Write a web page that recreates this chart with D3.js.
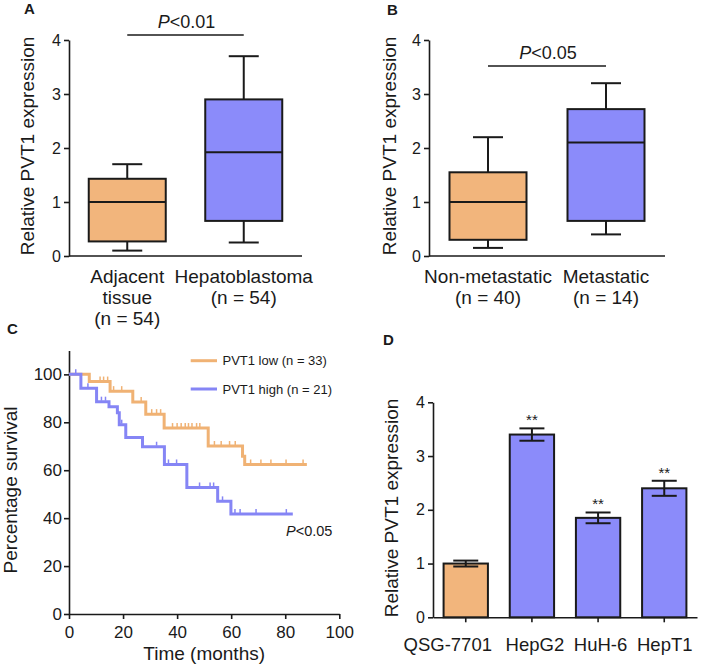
<!DOCTYPE html>
<html><head><meta charset="utf-8">
<script src="https://cdn.jsdelivr.net/npm/d3@7"></script>
<style>
body{margin:0;background:#fff}
svg{display:block;background:#fff}
text{font-family:"Liberation Sans",Arial,Helvetica,sans-serif;fill:#1a1a1a}
</style>
</head><body>
<svg id="c" width="704" height="668"></svg>
<script>
// ---------- DATA ----------
// Panel A (box plots)
const catsA = [["Adjacent","tissue","(n = 54)"],["Hepatoblastoma","(n = 54)"]];
const minA = [0.10, 0.25];
const q1A  = [0.27, 0.65];
const medA = [1.00, 1.92];
const q3A  = [1.43, 2.90];
const maxA = [1.70, 3.70];
const pA = "<0.01";
// Panel B (box plots)
const catsB = [["Non-metastatic","(n = 40)"],["Metastatic","(n = 14)"]];
const minB = [0.15, 0.40];
const q1B  = [0.30, 0.65];
const medB = [1.00, 2.10];
const q3B  = [1.55, 2.72];
const maxB = [2.20, 3.20];
const pB = "<0.05";
const yTicksAB = [0, 1, 2, 3, 4];
// Panel C (Kaplan-Meier)
const lowTimes = [0, 7.5, 15.2, 23.6, 28.4, 35.2, 51.5, 64.2, 65.0];
const lowSurv  = [100, 97.0, 93.0, 88.5, 83.4, 77.6, 70.1, 65.8, 62.4];
const lowEnd = 88;
const lowCensor = [11.5, 12.8, 14.3, 16.5, 19.5, 26.7, 30.6, 32.4, 33.9, 38.3, 40.0, 41.5, 43.0, 44.2, 45.5, 47.2, 48.4, 53.8, 56.3, 59.4, 61.5, 67.2, 71.0, 74.7, 80.3, 86.6];
const highTimes = [0, 4.4, 10.2, 14.8, 17.9, 18.6, 21.0, 27.2, 35.3, 43.6, 55.0, 59.9];
const highSurv  = [100, 94.2, 88.6, 86.5, 84.0, 79.0, 73.7, 69.8, 62.4, 52.8, 47.0, 41.7];
const highEnd = 82.8;
const highCensor = [2.5, 7.0, 12.0, 13.5, 19.5, 32.4, 36.8, 39.8, 48.3, 52.2, 53.5, 56.8, 61.4, 63.3, 69.2, 80.4];
const legendC = ["PVT1 low (n = 33)", "PVT1 high (n = 21)"];
const xTicksC = [0, 20, 40, 60, 80, 100];
const yTicksC = [0, 20, 40, 60, 80, 100];
const pC = "<0.05";
// Panel D (bars)
const catsD = ["QSG-7701", "HepG2", "HuH-6", "HepT1"];
const valsD = [1.00, 3.40, 1.85, 2.40];
const errD  = [0.055, 0.115, 0.10, 0.14];
const sigD  = ["", "**", "**", "**"];

// ---------- STYLE ----------
const ORANGE = "#F2B57C", BLUE = "#8B8BFA";
const LORANGE = "#F0B274", LBLUE = "#8585F5";
const INK = "#1a1a1a";
const svg = d3.select("#c");
const fmt = d3.format("d");

function styleAxis(g, fs){
  g.selectAll("path,line").attr("stroke", INK).attr("stroke-width", 1.6);
  g.selectAll("text").attr("font-size", fs).attr("fill", INK).attr("font-family", '"Liberation Sans",Arial,sans-serif');
}

function panelLabel(t, x, y){
  svg.append("text").attr("x", x).attr("y", y).attr("font-size", 15).attr("font-weight", "bold").text(t);
}

// ---------- BOX PANELS ----------
function boxPanel(o){
  const y = d3.scaleLinear().domain([0,4]).range([256, 40]);
  const x = d3.scalePoint().domain(d3.range(o.cats.length)).range([o.x0, o.x1]).padding(0.5);
  const g = svg.append("g");
  const ya = g.append("g").attr("transform", `translate(${o.x0},0)`)
    .call(d3.axisLeft(y).tickValues(yTicksAB).tickFormat(fmt).tickSize(5).tickSizeOuter(0).tickPadding(3));
  styleAxis(ya, 16);
  g.append("line").attr("x1", o.x0).attr("x2", o.x1).attr("y1", y(0)).attr("y2", y(0))
    .attr("stroke", INK).attr("stroke-width", 1.6);
  const bw = 77, cw = 30;
  o.cats.forEach((c, i) => {
    const cx = x(i), col = i === 0 ? ORANGE : BLUE;
    const s = g.append("g").attr("stroke", INK).attr("stroke-width", 2);
    s.append("line").attr("x1", cx).attr("x2", cx).attr("y1", y(o.max[i])).attr("y2", y(o.q3[i]));
    s.append("line").attr("x1", cx).attr("x2", cx).attr("y1", y(o.q1[i])).attr("y2", y(o.min[i]));
    s.append("line").attr("x1", cx-cw/2).attr("x2", cx+cw/2).attr("y1", y(o.max[i])).attr("y2", y(o.max[i]));
    s.append("line").attr("x1", cx-cw/2).attr("x2", cx+cw/2).attr("y1", y(o.min[i])).attr("y2", y(o.min[i]));
    s.append("rect").attr("x", cx-bw/2).attr("width", bw).attr("y", y(o.q3[i])).attr("height", y(o.q1[i]) - y(o.q3[i]))
      .attr("fill", col);
    s.append("line").attr("x1", cx-bw/2).attr("x2", cx+bw/2).attr("y1", y(o.med[i])).attr("y2", y(o.med[i]));
    const t = g.append("text").attr("text-anchor", "middle").attr("font-size", 19);
    c.forEach((ln, k) => t.append("tspan").attr("x", cx).attr("y", 283 + k*21).text(ln));
  });
  // significance
  g.append("line").attr("x1", x(0)).attr("x2", x(1)).attr("y1", o.sigY).attr("y2", o.sigY)
    .attr("stroke", INK).attr("stroke-width", 1.6);
  const pt = g.append("text").attr("x", (x(0)+x(1))/2 + 1).attr("y", o.sigY - 7).attr("text-anchor", "middle").attr("font-size", 18);
  pt.append("tspan").attr("font-style", "italic").text("P");
  pt.append("tspan").text(o.p);
  // y title
  g.append("text").attr("transform", `translate(${o.titleX},146) rotate(-90)`).attr("text-anchor", "middle")
    .attr("font-size", 19).text("Relative PVT1 expression");
}
boxPanel({cats: catsA, min: minA, q1: q1A, med: medA, q3: q3A, max: maxA, x0: 69, x1: 302, sigY: 35, p: pA, titleX: 34});
boxPanel({cats: catsB, min: minB, q1: q1B, med: medB, q3: q3B, max: maxB, x0: 429, x1: 665, sigY: 66, p: pB, titleX: 396});
panelLabel("A", 24, 14);
panelLabel("B", 387, 15);

// ---------- PANEL C ----------
(function(){
  const x = d3.scaleLinear().domain([0,100]).range([69, 339.3]);
  const y = d3.scaleLinear().domain([0,110]).range([614, 350.4]);
  const g = svg.append("g");
  const xa = g.append("g").attr("transform", `translate(0,${y(0)})`)
    .call(d3.axisBottom(x).tickValues(xTicksC).tickFormat(fmt).tickSize(5).tickSizeOuter(0).tickPadding(7));
  styleAxis(xa, 17);
  const ya = g.append("g").attr("transform", `translate(${x(0)},0)`)
    .call(d3.axisLeft(y).tickValues(yTicksC).tickFormat(fmt).tickSize(5).tickSizeOuter(0).tickPadding(2));
  styleAxis(ya, 17);
  function curve(times, surv, end, cens, col){
    const pts = times.map((t, i) => [t, surv[i]]);
    pts.push([end, surv[surv.length-1]]);
    g.append("path").datum(pts).attr("fill", "none").attr("stroke", col).attr("stroke-width", 3)
      .attr("d", d3.line().x(d => x(d[0])).y(d => y(d[1])).curve(d3.curveStepAfter));
    const sAt = t => surv[d3.bisectRight(times, t) - 1];
    g.selectAll(null).data(cens).enter().append("line")
      .attr("x1", d => x(d)).attr("x2", d => x(d))
      .attr("y1", d => y(sAt(d)) - 1).attr("y2", d => y(sAt(d)) - 5)
      .attr("stroke", col).attr("stroke-width", 1.5);
  }
  curve(lowTimes, lowSurv, lowEnd, lowCensor, LORANGE);
  curve(highTimes, highSurv, highEnd, highCensor, LBLUE);
  // legend
  [[LORANGE, 360.7], [LBLUE, 389]].forEach((d, i) => {
    g.append("line").attr("x1", 190.7).attr("x2", 217).attr("y1", d[1]).attr("y2", d[1])
      .attr("stroke", d[0]).attr("stroke-width", 3);
    g.append("text").attr("x", 222.5).attr("y", d[1] + 4.6).attr("font-size", 13).text(legendC[i]);
  });
  const pt = g.append("text").attr("x", 286).attr("y", 536).attr("font-size", 14.5);
  pt.append("tspan").attr("font-style", "italic").text("P");
  pt.append("tspan").text(pC);
  g.append("text").attr("x", (x(0)+x(100))/2).attr("y", 660).attr("text-anchor", "middle").attr("font-size", 19).text("Time (months)");
  g.append("text").attr("transform", `translate(17,490) rotate(-90)`).attr("text-anchor", "middle")
    .attr("font-size", 19).text("Percentage survival");
})();
panelLabel("C", 7, 334);

// ---------- PANEL D ----------
(function(){
  const y = d3.scaleLinear().domain([0,4]).range([617.3, 402.3]);
  const x = d3.scaleBand().domain(catsD).range([433, 697]).paddingInner(0.33).paddingOuter(0.16);
  const g = svg.append("g");
  const bw = x.bandwidth();
  g.selectAll(null).data(catsD).enter().append("rect")
    .attr("x", d => x(d)).attr("width", bw)
    .attr("y", (d, i) => y(valsD[i])).attr("height", (d, i) => y(0) - y(valsD[i]))
    .attr("fill", (d, i) => i === 0 ? ORANGE : BLUE).attr("stroke", INK).attr("stroke-width", 2);
  const cw = 25;
  catsD.forEach((c, i) => {
    const cx = x(c) + bw/2, top = y(valsD[i] + errD[i]), bot = y(valsD[i] - errD[i]);
    const s = g.append("g").attr("stroke", INK).attr("stroke-width", 2);
    s.append("line").attr("x1", cx).attr("x2", cx).attr("y1", top).attr("y2", bot);
    s.append("line").attr("x1", cx-cw/2).attr("x2", cx+cw/2).attr("y1", top).attr("y2", top);
    s.append("line").attr("x1", cx-cw/2).attr("x2", cx+cw/2).attr("y1", bot).attr("y2", bot);
    if (sigD[i]) g.append("text").attr("x", cx).attr("y", top - 3).attr("text-anchor", "middle").attr("font-size", 15).text(sigD[i]);
  });
  const ya = g.append("g").attr("transform", `translate(433,0)`)
    .call(d3.axisLeft(y).tickValues(yTicksAB).tickFormat(fmt).tickSize(5).tickSizeOuter(0).tickPadding(3));
  styleAxis(ya, 16);
  const xa = g.append("g").attr("transform", `translate(0,${y(0)})`)
    .call(d3.axisBottom(x).tickSize(5).tickSizeOuter(0).tickPadding(16));
  styleAxis(xa, 18.5);
  // label offsets as laid out in the original figure
  const dxD = [-18, 3, 2.5, 0.5];
  xa.selectAll(".tick text").attr("dx", (d, i) => dxD[i]);
  g.append("text").attr("transform", `translate(398,508) rotate(-90)`).attr("text-anchor", "middle")
    .attr("font-size", 19).text("Relative PVT1 expression");
})();
panelLabel("D", 383, 345);
</script>
</body></html>
